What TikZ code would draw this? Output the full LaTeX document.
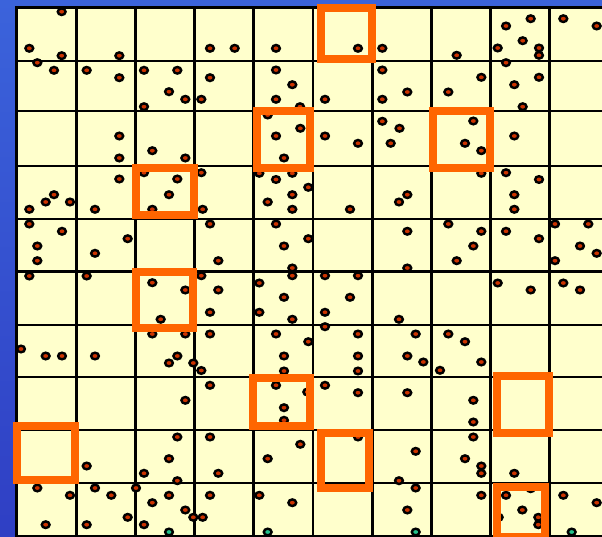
\documentclass[tikz,border=0pt]{standalone}
\usetikzlibrary{shapes.geometric}
\definecolor{bgtop}{HTML}{3B63DB}
\definecolor{bgbot}{HTML}{2F3FC4}
\definecolor{cellyellow}{HTML}{FFFFCC}
\definecolor{dotred}{HTML}{CC3300}
\definecolor{dotgreen}{HTML}{22C08A}
\definecolor{hiorange}{HTML}{FF6600}
\tikzset{
  gridline/.style={line width=2.2pt, black},
  borderline/.style={line width=3pt, black},
  dotr/.style={draw=black, line width=2.4pt, fill=dotred},
  dotg/.style={draw=black, line width=2.4pt, fill=dotgreen},
  hilite/.style={draw=hiorange, line width=7.8pt},
}
\begin{document}
\begin{tikzpicture}[x=1pt,y=-1pt]
\useasboundingbox (0,0) rectangle (602,537);
\begin{scope}
\clip (0,0) rectangle (602,537);
% background
\shade[top color=bgtop, bottom color=bgbot] (0,0) rectangle (602,537);
% yellow field
\fill[cellyellow] (16,7.5) rectangle (610,545);
% grid lines
\foreach \gx in {76.5,135.5,194.5,253.5,313,372.5,431.5,490.5,549.5}
  \draw[gridline] (\gx,7.5) -- (\gx,545);
\foreach \gy in {61,111,166,219,271.5,325,377,430,483,536}
  \draw[gridline] (16,\gy) -- (610,\gy);
\draw[borderline] (16,545) -- (16,7.5) -- (610,7.5);
% red dots
\foreach \px/\py in {
61.7/11.7, 29.3/48.3, 61.7/55.7, 37.3/62.7, 54/70.3, 119.3/55.7, 86.7/70.3, 119.3/77.7,
144/70.3, 177.3/70.3, 169/91.7, 185.3/99.3, 144/106.7, 201.3/99.3, 119.3/136, 119.3/158,
152.3/150.7, 185.3/158, 144/172.7, 177.3/179, 119.3/179, 201.3/172.7,
210/48.3, 234.7/48.3, 276/48.3, 358/48.3, 382.3/48.3, 276/70, 382.3/70, 210/77.7,
292.3/84.7, 276/99.3, 325/99.3, 382.3/99.3, 300/106.7, 267.7/115, 382.3/121.3, 399.5/128.3,
300.3/128.3, 276/136, 325/136, 358/143.3, 390.7/143.3, 284/158, 259.3/173.3, 292.3/173.3, 276/179.5,
530.7/18.7, 506/26, 563.3/18.7, 596.7/26, 522.7/40.7, 497.7/48, 539/48, 539/55.3, 456.7/55.3,
506/62.7, 481.3/77.3, 539/77.3, 514.3/84.7, 407.3/92, 448.3/92, 522.7/106.7, 473.3/121,
465/143.3, 481.3/150.7, 514.3/136, 481.3/173.3, 506/172.7, 539/179.5,
54/194.7, 45.7/202, 70/202, 29.3/209.3, 95/209.3, 169/194.7, 152.3/209.3, 29.3/224, 62/231.3,
37.3/246, 37.3/260.7, 127.7/238.7, 95/253.3, 29.3/276, 86.7/276, 152.3/282.7, 185.3/290,
160.7/319.3, 201.3/275.7, 21/349, 45.7/356, 62/356, 95/356, 152.3/334, 185.3/334, 177.3/356,
308.3/187.3, 292.3/194.7, 267.7/202, 292.3/209.3, 202.7/209.3, 350/209.3, 399/202, 210/224,
276/224, 308.3/238.7, 284/246, 218.3/260.7, 292.3/268, 292.3/275.7, 325/275.7, 358/275.7,
259.3/283, 218.3/290, 284/297.3, 350/297.3, 210/312.3, 259.3/312.3, 325/312.3, 292.3/319.3,
399/319.3, 325/326.7, 210/334, 276/334, 358/334, 308.3/341.7, 284/356, 358/356,
407.3/194.7, 514.3/194.7, 514.3/209.3, 448.3/224, 407.3/231.3, 481.3/231.3, 506/231.3,
473.3/246, 456.7/260.7, 539/238.7, 555/224, 588.3/224, 580/246, 596.7/253.3, 555/260.7,
407.3/268, 497.7/283, 530.7/290, 563.3/283, 580/290, 415.7/334, 448.3/334, 465/341.7,
407.3/356, 423.3/362, 481.3/362,
169/363, 193.3/363, 201.3/370.5, 185.3/400.3, 177.3/437, 169/458.7, 144/473.3, 177.3/480.7,
86.7/466, 37.3/488, 70/495.3, 95/488, 111.3/495.3, 136/488, 152.3/502.7, 169/495.3,
185.3/510, 193.3/517.3, 127.7/517.3, 144/524.7, 45.7/524.7, 86.7/524.7,
284/371, 358/371, 210/385.3, 276/385.3, 307.3/392, 325/385.3, 358/392.7, 284/407.7,
284/420.3, 210/437, 358/437, 300.3/444.3, 267.7/458.7, 218.3/473.3, 399/480.7, 210/495.3,
259.3/495.3, 292.3/502.7, 202.7/517.3,
440/370.3, 407.3/392.7, 473.3/400.3, 473.3/422, 473.3/437, 415.7/451.3, 465/458.7,
481.3/466, 481.3/473.3, 514.3/473.3, 415.7/488, 481.3/495.3, 506/495.3, 530.7/488.7,
563.3/495.3, 596.7/502.7, 522.3/510, 538.3/517.3, 538.3/524.7, 498.7/517.3, 407.3/510}
  \filldraw[dotr] (\px,\py) ellipse [x radius=3.9pt, y radius=3.3pt];
% green dots
\foreach \px/\py in {169/532, 267.7/532, 415.7/532, 571.7/532}
  \filldraw[dotg] (\px,\py) ellipse [x radius=3.9pt, y radius=3.3pt];
% highlighted squares
\draw[hilite] (321.2,7.8) rectangle (371.7,58.8);
\draw[hilite] (257,111) rectangle (310,168);
\draw[hilite] (433,111) rectangle (490,168);
\draw[hilite] (136,168) rectangle (194,215);
\draw[hilite] (136,272) rectangle (193,328);
\draw[hilite] (253,378) rectangle (310,426);
\draw[hilite] (321,433) rectangle (369,488);
\draw[hilite] (17,426) rectangle (75,480);
\draw[hilite] (497,376) rectangle (549,433);
\draw[hilite] (497,487) rectangle (545,537);
\end{scope}
\end{tikzpicture}
\end{document}
